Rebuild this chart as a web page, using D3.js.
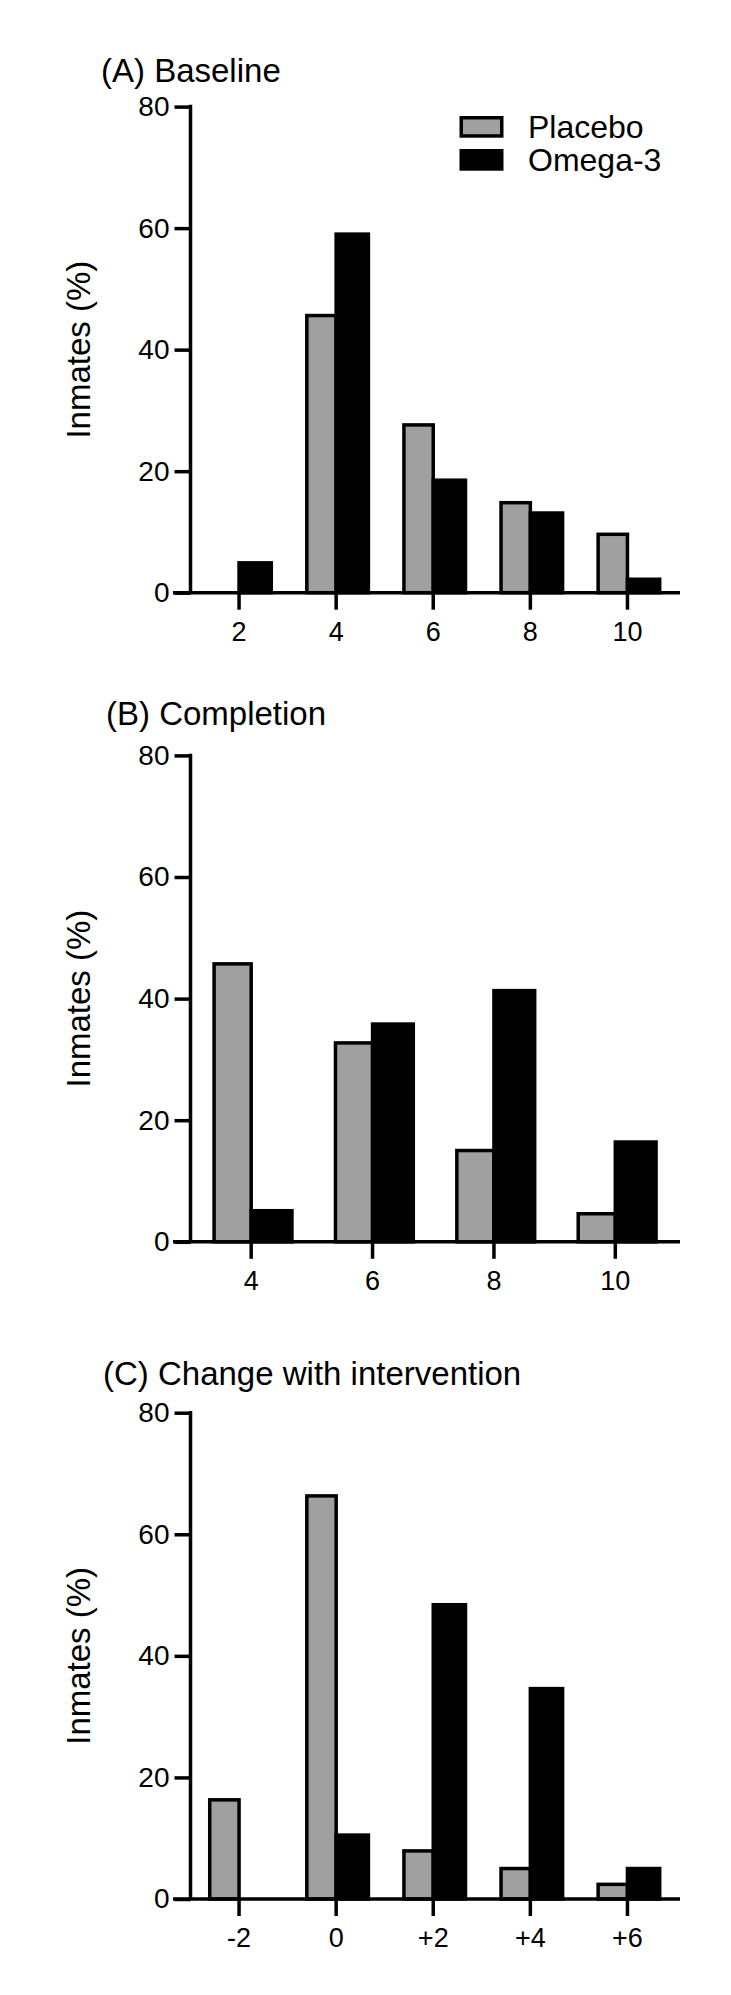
<!DOCTYPE html>
<html>
<head>
<meta charset="utf-8">
<script src="https://cdn.jsdelivr.net/npm/d3@7"></script>
<style>
  html, body { margin: 0; padding: 0; background: #fff; }
  svg { display: block; }
  text { font-family: "Liberation Sans", Arial, sans-serif; fill: #000; }
</style>
</head>
<body>
<svg id="chart" width="731" height="1995"></svg>
<script>
// ---------- data ----------
const seriesNames = ["Placebo", "Omega-3"];
const yTicks = [0, 20, 40, 60, 80];
const yLabel = "Inmates (%)";

const titleA = "(A) Baseline";
const catsA = ["2", "4", "6", "8", "10"];
const placeboA = [0, 45.9, 27.9, 15.1, 9.9];
const omegaA = [5.2, 59.3, 18.8, 13.4, 2.5];

const titleB = "(B) Completion";
const catsB = ["4", "6", "8", "10"];
const placeboB = [46.0, 33.0, 15.3, 4.9];
const omegaB = [5.4, 36.1, 41.6, 16.7];

const titleC = "(C) Change with intervention";
const catsC = ["-2", "0", "+2", "+4", "+6"];
const placeboC = [16.6, 66.6, 8.2, 5.3, 2.7];
const omegaC = [0, 10.8, 48.7, 34.9, 5.3];

// ---------- style ----------
const SW = 3.5;
const GRAY = "#a0a0a0";
const panels = [
  { title: titleA, cats: catsA, p: placeboA, o: omegaA, top: 106.6, bottom: 592.7, titleX: 101, titleY: 82, legend: true },
  { title: titleB, cats: catsB, p: placeboB, o: omegaB, top: 755.4, bottom: 1241.8, titleX: 106, titleY: 725, legend: false },
  { title: titleC, cats: catsC, p: placeboC, o: omegaC, top: 1412.7, bottom: 1899, titleX: 103, titleY: 1385, legend: false }
];

const svg = d3.select("#chart");
svg.append("rect").attr("width", 731).attr("height", 1995).attr("fill", "#fff");

const AX = 190.5, XR = 676, XEND = 680, XSTART = 173;

panels.forEach(pn => {
  const g = svg.append("g");
  const y = d3.scaleLinear().domain([0, 80]).range([pn.bottom, pn.top]);
  const x = d3.scaleBand().domain(pn.cats).range([AX, XR]).padding(0);
  const bw = x.bandwidth();
  const cx = c => x(c) + bw / 2;

  // title
  g.append("text").attr("x", pn.titleX).attr("y", pn.titleY)
    .attr("font-size", 33).text(pn.title);

  // y label
  g.append("text")
    .attr("transform", `translate(90,${(pn.top + pn.bottom) / 2}) rotate(-90)`)
    .attr("text-anchor", "middle").attr("font-size", 33).text(yLabel);

  // bars
  const rows = pn.cats.map((c, i) => ({ c, p: pn.p[i], o: pn.o[i] }));
  g.selectAll("rect.placebo").data(rows.filter(d => d.p > 0)).join("rect")
    .attr("class", "placebo")
    .attr("x", d => cx(d.c) - 0.32 * bw + SW / 2)
    .attr("width", 0.32 * bw - SW / 2)
    .attr("y", d => y(d.p) + SW / 2)
    .attr("height", d => y(0) - y(d.p) - SW / 2)
    .attr("fill", GRAY).attr("stroke", "#000").attr("stroke-width", SW);
  g.selectAll("rect.omega").data(rows.filter(d => d.o > 0)).join("rect")
    .attr("class", "omega")
    .attr("x", d => cx(d.c))
    .attr("width", 0.35 * bw - SW / 2)
    .attr("y", d => y(d.o) + SW / 2)
    .attr("height", d => y(0) - y(d.o) - SW / 2)
    .attr("fill", "#000").attr("stroke", "#000").attr("stroke-width", SW);

  // y axis
  const ya = g.append("g").attr("transform", `translate(${AX},0)`)
    .call(d3.axisLeft(y).tickValues(yTicks).tickSize(16).tickPadding(5).tickFormat(d3.format("d")));
  ya.select(".domain").remove();
  ya.selectAll(".tick line").attr("stroke", "#000").attr("stroke-width", SW);
  ya.selectAll(".tick text").attr("font-size", 28)
    .attr("font-family", "'Liberation Sans', Arial, sans-serif").attr("fill", "#000");
  g.append("line").attr("x1", AX).attr("x2", AX)
    .attr("y1", y(80) - SW / 2).attr("y2", y(0))
    .attr("stroke", "#000").attr("stroke-width", SW);

  // x axis
  const xa = g.append("g").attr("transform", `translate(0,${y(0)})`)
    .call(d3.axisBottom(x).tickSize(17));
  xa.select(".domain").remove();
  xa.selectAll(".tick line").attr("stroke", "#000").attr("stroke-width", SW);
  xa.selectAll(".tick text").attr("font-size", 27).attr("y", 48).attr("dy", 0)
    .attr("font-family", "'Liberation Sans', Arial, sans-serif").attr("fill", "#000");
  g.append("line").attr("x1", XSTART).attr("x2", XEND)
    .attr("y1", y(0)).attr("y2", y(0))
    .attr("stroke", "#000").attr("stroke-width", SW);

  // legend
  if (pn.legend) {
    const lg = g.append("g");
    const fills = [GRAY, "#000"];
    const ys = [116, 149];
    seriesNames.forEach((s, i) => {
      lg.append("rect").attr("x", 459.5 + SW / 2).attr("y", ys[i] + SW / 2)
        .attr("width", 44 - SW).attr("height", 21.7 - SW)
        .attr("fill", fills[i]).attr("stroke", "#000").attr("stroke-width", SW);
      lg.append("text").attr("x", 528).attr("y", ys[i] + 21.5)
        .attr("font-size", 32).text(s);
    });
  }
});
</script>
</body>
</html>
